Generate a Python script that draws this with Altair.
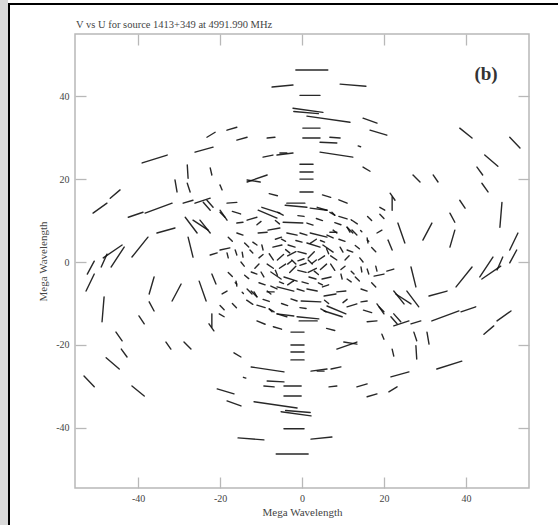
import altair as alt
import pandas as pd

# Each track also appears at (-u, -v) (Hermitian symmetry of uv coverage).
u_start = [
    -1.5, -7.3, 9.3, -0.5, -2.2, -2.0, 1.2, 0.2, 0.2, 6.8, 4.4, -5.4, 4.4, -0.5, -0.5, -0.5, -0.5,
    14.9, 16.6, 13.7, 14.9, -8.5, -9.5, -6.1, -13.4,
    -23.2, -18.3, -15.9, -26.1, -39.0, -28.0, -22.4, -31.0, -28.0, -20.0, -51.0, -46.8, -42.4,
    -38.3, -29.0, -26.1, -23.2, -20.0, -18.3, -28.5, -26.6, -27.8, -41.5, -35.4, -48.5,
    38.5, 50.7, 44.6, 42.7, 27.1, 32.0, 43.9, 38.5, 21.5, 22.0, 19.0, 36.1, 29.5, 36.1, 23.4,
    21.0, 18.3, 11.0, 6.8, 3.7, 6.8, 48.8, 50.7, 50.7, 43.4, 47.6, 15.9, 14.3,
    -13.4, -24.1, -20.0, -4.1, -3.7, 2.0, -9.8, -5.9, 7.3, -10.7, -13.4, -15.9, -4.6, 1.2, -8.3,
    -10.7, -15.9, -3.7, -0.5, 2.0, 6.1, 7.6, 11.0, 12.2, 15.9, -12.0, -9.8, -7.1, -3.4, 1.2, 5.1,
    9.3, -20.0, -22.4, -18.3, -16.3, -14.6, -12.7, 11.0, 14.1, -24.9,
    -3.5, -1.0, 1.5, -6.0, 4.0, -8.0, 7.0, -1.0, 2.0, -6.5, 9.0,
    -8.0, 5.0, 9.0, 9.0, 12.0, -17.0, -14.0, -11.0, -6.5, 3.5, 8.0, -1.0, 17.0, -18.0, -5.0,
    4.5, -2.5, 2.5, -4.0, 6.0, -10.5, 10.5, 13.0, -1.5, 19.0, 16.0,
]
v_start = [
    46.3, 42.2, 42.9, 40.2, 37.1, 36.3, 35.2, 32.3, 29.9, 30.1, 28.9, 26.3, 26.5, 23.6, 21.7, 20.0, 16.9,
    34.7, 31.8, 28.0, 22.9, 29.9, 25.3, 25.8, 19.3,
    30.1, 31.8, 29.4, 26.5, 23.9, 23.4, 22.7, 19.8, 19.0, 18.6, 11.8, 15.4, 10.8,
    11.8, 14.2, 14.2, 14.9, 12.5, 14.2, 10.8, 10.1, 6.0, 1.2, 7.0, 1.0,
    32.3, 30.1, 25.8, 22.9, 21.0, 21.0, 19.0, 14.9, 16.6, 15.7, 13.2, 11.8, 5.3, 3.6, 9.4,
    5.3, 7.0, 8.4, 7.2, 13.2, 12.0, 14.4, 2.9, -0.2, -3.6, -1.9, 5.3, 7.6,
    19.8, 14.4, 12.0, 13.7, 14.2, 13.0, 13.2, 12.0, 12.0, 12.5, 10.1, 9.4, 9.6, 9.4, 7.7,
    7.0, 7.0, 7.0, 7.0, 7.0, 6.5, 7.7, 8.4, 7.7, 5.8, 4.8, 4.1, 3.6, 4.1, 4.6, 4.1,
    3.6, 2.9, 1.7, 2.2, 2.9, 2.4, 2.9, 2.9, 1.0, 10.1,
    1.5, 2.5, 1.0, 0.5, 0.5, 2.0, 1.5, 0.3, 4.5, 5.5, 5.5,
    16.5, 16.2, 15.0, 11.0, 10.2, 12.2, 4.6, 9.0, 10.0, 10.5, 9.5, 11.2, 3.5, 6.0, 5.5,
    5.2, 0.5, -0.3, 3.0, 3.2, 1.0, 0.5, 4.0, 5.2, 11.5, 11.0,
]
u_end = [
    6.3, -2.2, 15.6, 4.4, 5.1, 4.0, 11.7, 4.4, 4.4, 9.3, 8.5, -3.7, 12.4, 2.7, 2.7, 2.7, 2.7,
    18.3, 20.7, 14.3, 16.6, -6.6, -7.1, -2.2, -8.5,
    -21.2, -15.9, -13.4, -21.7, -32.9, -27.8, -22.0, -30.5, -27.3, -19.5, -47.6, -44.4, -38.8,
    -31.7, -26.6, -22.4, -21.7, -18.3, -15.9, -25.6, -22.9, -26.6, -37.6, -31.0, -43.9,
    41.5, 53.2, 47.8, 44.1, 28.8, 33.2, 45.4, 39.8, 22.7, 22.0, 20.2, 37.3, 31.7, 37.3, 25.1,
    22.0, 19.5, 12.4, 8.5, 6.1, 8.0, 48.3, 52.7, 52.4, 46.6, 49.0, 16.3, 14.6,
    -10.2, -22.4, -18.8, 1.2, 0.7, 6.1, -5.4, -4.6, 8.0, -6.1, -11.0, -14.4, 0.2, 2.7, -5.4,
    -8.5, -14.4, -1.2, 1.2, 6.1, 7.6, 8.5, 11.7, 13.4, 16.1, -11.0, -9.5, -4.9, -1.7, 4.4, 7.6,
    10.0, -17.6, -20.7, -18.0, -15.9, -14.4, -12.0, 12.4, 14.9, -22.4,
    -1.5, 1.0, 3.0, -4.5, 5.5, -7.0, 8.5, 0.5, 3.5, -5.0, 10.5,
    -6.0, 7.0, 11.0, 11.0, 13.5, -15.0, -13.0, -10.0, -5.5, 5.0, 9.5, 0.5, 18.0, -17.0, -4.0,
    5.5, -1.5, 3.5, -3.0, 6.5, -9.5, 11.5, 14.0, 0.0, 20.0, 17.0,
]
v_end = [
    46.3, 42.7, 42.4, 40.2, 36.1, 35.8, 33.7, 32.3, 29.9, 29.9, 28.7, 26.3, 25.3, 23.6, 21.7, 20.0, 16.9,
    33.5, 30.6, 27.8, 21.9, 30.1, 25.8, 26.3, 21.0,
    31.3, 32.5, 30.1, 27.7, 25.8, 20.2, 21.0, 16.9, 16.9, 17.4, 14.2, 17.4, 12.0,
    14.2, 14.9, 15.4, 13.2, 10.1, 14.4, 7.0, 7.7, 1.2, 6.0, 8.2, 4.1,
    29.9, 27.5, 23.1, 21.0, 19.3, 19.3, 16.9, 13.0, 14.9, 12.5, 12.5, 9.6, 9.4, 7.7, 4.6,
    2.9, 7.7, 7.0, 7.2, 12.5, 11.3, 8.4, 7.0, 2.9, 1.2, 1.2, 5.0, 7.3,
    19.3, 12.5, 10.8, 13.2, 14.2, 12.5, 11.8, 11.3, 11.3, 10.6, 10.8, 9.6, 9.4, 8.9, 8.2,
    7.2, 6.5, 6.5, 6.5, 6.0, 5.8, 7.0, 7.2, 6.5, 4.6, 4.1, 2.9, 4.1, 3.6, 3.6, 2.4,
    2.4, 3.4, 2.2, 1.0, 1.7, 1.2, 2.2, 2.4, 0.0, 7.0,
    2.5, 2.0, 2.5, 1.8, 1.5, 0.5, 0.5, 0.8, 5.5, 6.0, 5.0,
    16.0, 15.6, 14.2, 10.4, 9.2, 11.6, 3.6, 9.8, 9.2, 10.0, 9.0, 11.0, 2.5, 5.0, 5.0,
    4.8, -0.5, 0.5, 2.2, 2.0, 1.8, 1.5, 3.2, 4.8, 10.5, 10.0,
]

x_ticks = [-40, -20, 0, 20, 40]
y_ticks = [-40, -20, 0, 20, 40]
title_text = "V vs U for source 1413+349 at 4991.990 MHz"
axis_title = "Mega Wavelength"
panel_tag = "(b)"

half = pd.DataFrame({"u1": u_start, "v1": v_start, "u2": u_end, "v2": v_end})
mirror = pd.DataFrame({"u1": [-a for a in u_start], "v1": [-a for a in v_start],
                       "u2": [-a for a in u_end], "v2": [-a for a in v_end]})
df = pd.concat([half, mirror], ignore_index=True)

FONT = "Liberation Serif"
GREY = "#b8b8b8"
TXT = "#444444"

xs = alt.Scale(domain=[-55.4, 55.4], nice=False, zero=False)
ys = alt.Scale(domain=[-54.5, 55.0], nice=False, zero=False)

common = dict(tickSize=11, offset=-11, tickColor=GREY, tickWidth=1.3, domain=False, grid=False)

ax_bottom = alt.Axis(orient="bottom", values=x_ticks, labelFont=FONT, labelFontSize=10,
                     labelColor=TXT, labelPadding=5, labelExpr="'' + datum.value",
                     title=axis_title, titleFont=FONT, titleFontSize=11,
                     titleFontWeight="normal", titleColor=TXT, titlePadding=3, **common)
ax_left = alt.Axis(orient="left", values=y_ticks, labelFont=FONT, labelFontSize=10,
                   labelColor=TXT, labelPadding=6, labelExpr="'' + datum.value",
                   title=axis_title, titleFont=FONT, titleFontSize=11,
                   titleFontWeight="normal", titleColor=TXT, titlePadding=7, **common)
ax_top = alt.Axis(orient="top", values=x_ticks, labels=False, title=None, **common)
ax_right = alt.Axis(orient="right", values=y_ticks, labels=False, title=None, **common)

base = alt.Chart(df)
tracks = base.mark_rule(color="#111111", strokeWidth=1.4, opacity=0.9, strokeCap="round").encode(
    x=alt.X("u1:Q", scale=xs, axis=ax_bottom),
    y=alt.Y("v1:Q", scale=ys, axis=ax_left),
    x2="u2:Q",
    y2="v2:Q",
)
frame_ticks = base.mark_rule(opacity=0).encode(
    x=alt.X("u1:Q", scale=xs, axis=ax_top),
    y=alt.Y("v1:Q", scale=ys, axis=ax_right),
)

one = pd.DataFrame({"k": [0]})
strip = alt.Chart(one).mark_rect(fill="#d9d9d9").encode(
    x=alt.value(-75), x2=alt.value(-67), y=alt.value(-34), y2=alt.value(491))
left_line = alt.Chart(one).mark_rule(color="black", strokeWidth=2).encode(
    x=alt.value(-66), y=alt.value(-31), y2=alt.value(491))
top_line = alt.Chart(one).mark_rule(color="black", strokeWidth=2).encode(
    x=alt.value(-67), x2=alt.value(483), y=alt.value(-30))
title = alt.Chart(one).mark_text(text=title_text, align="left", baseline="alphabetic",
                                 font=FONT, fontSize=10.5, color=TXT).encode(
    x=alt.value(1), y=alt.value(-6))
tag = alt.Chart(one).mark_text(text=panel_tag, align="center", baseline="middle", font=FONT,
                               fontSize=19, fontWeight="bold", color="#333333").encode(
    x=alt.value(411), y=alt.value(40))

chart = alt.layer(tracks, frame_ticks, strip, left_line, top_line, title, tag).resolve_axis(
    x="independent", y="independent"
).properties(
    width=454, height=454,
    autosize=alt.AutoSizeParams(type="none"),
    padding={"left": 75, "top": 34, "right": 29, "bottom": 37},
    background="white",
).configure_view(stroke=GREY, strokeWidth=1.5)

chart.save("out.html", embed_options={"renderer": "svg", "actions": False})
